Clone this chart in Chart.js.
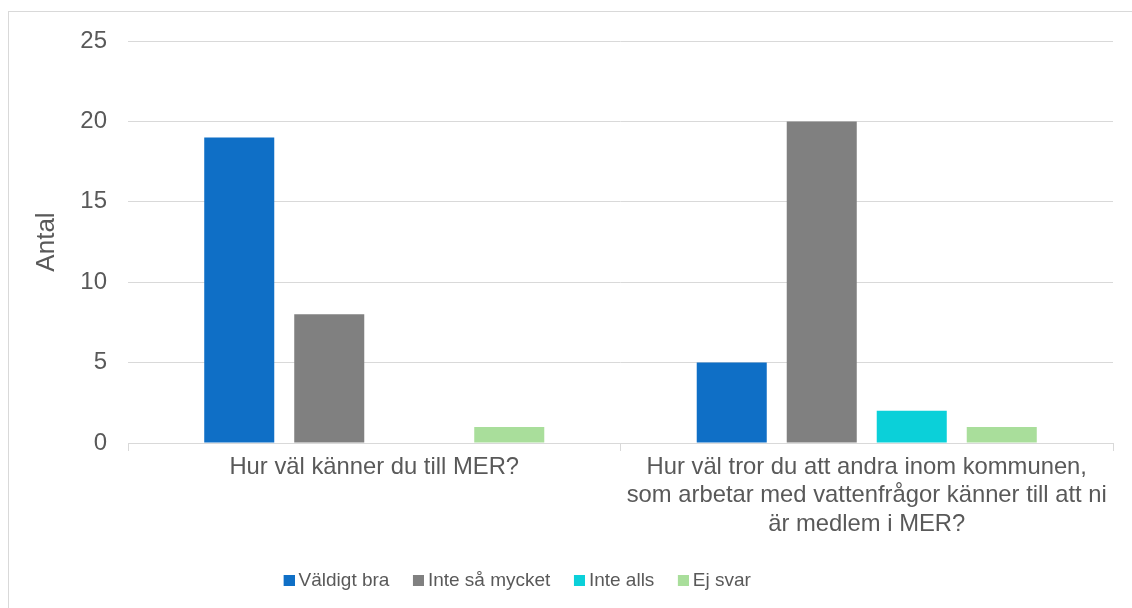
<!DOCTYPE html>
<html>
<head>
<meta charset="utf-8">
<script src="https://cdn.jsdelivr.net/npm/chart.js@4"></script>
<style>
  html, body { margin: 0; padding: 0; background: #fff; overflow: hidden; }
  #frame { position: absolute; left: 8px; top: 11px; width: 1200px; height: 700px; border: 1px solid #d9d9d9; }
  #wrap { position: absolute; left: 0; top: 0; width: 1132px; height: 608px; }
</style>
</head>
<body>
<div id="frame"></div>
<div id="wrap"><canvas id="chart" width="1132" height="608"></canvas></div>
<script>
const categories = [
  "Hur väl känner du till MER?",
  ["Hur väl tror du att andra inom kommunen,", "som arbetar med vattenfrågor känner till att ni", "är medlem i MER?"]
];
const seriesNames = ["Väldigt bra", "Inte så mycket", "Inte alls", "Ej svar"];
const valdigtBra = [19, 5];
const inteSaMycket = [8, 20];
const inteAlls = [0, 2];
const ejSvar = [1, 1];
const yTicks = [0, 5, 10, 15, 20, 25];

const colors = ["#0F6FC6", "#808080", "#0BD0D9", "#A9DE9B"];
const textColor = "#595959";
const font = "'Liberation Sans', Arial, sans-serif";

// legend swatch: square in the right half of a wider transparent image,
// so it sits close to its text like in the original
function swatch(color) {
    let c = document.createElement("canvas");
    c.width = 22;
    c.height = 11;
    let ctx = c.getContext("2d");
    ctx.fillStyle = color;
    ctx.fillRect(11, 0, 11, 11);
    return c;
}
const swatches = colors.map(swatch);

// legend is not centred under the plot in the original
const legendShift = {
    id: "legendShift",
    afterLayout(chart) {
        chart.legend.right -= 104;
    }
};

let chart = new Chart(document.getElementById("chart"), {
    type: "bar",
    data: {
        labels: categories,
        datasets: [valdigtBra, inteSaMycket, inteAlls, ejSvar].map((d, i) => ({
            label: seriesNames[i],
            data: d,
            backgroundColor: colors[i],
            categoryPercentage: 0.731,
            barPercentage: 0.778
        }))
    },
    plugins: [legendShift],
    options: {
        responsive: false,
        animation: false,
        layout: { padding: { left: 20, right: 19, top: 41, bottom: 8 } },
        plugins: {
            tooltip: { enabled: false },
            legend: {
                position: "bottom",
                labels: {
                    color: textColor,
                    font: { family: font, size: 19 },
                    usePointStyle: true,
                    pointStyleWidth: 11,
                    boxHeight: 11,
                    padding: 18,
                    generateLabels: c => Chart.defaults.plugins.legend.labels.generateLabels(c)
                        .map((item, i) => Object.assign(item, { pointStyle: swatches[i] }))
                }
            }
        },
        scales: {
            x: {
                grid: { offset: true, drawOnChartArea: false, color: "#d9d9d9", tickLength: 8 },
                border: { color: "#d9d9d9" },
                ticks: { color: textColor, font: { family: font, size: 23.8, lineHeight: 1.2 }, maxRotation: 0, padding: 2 },
                afterFit: s => { s.height = 110; }
            },
            y: {
                min: 0,
                max: 25,
                afterBuildTicks: s => { s.ticks = yTicks.map(v => ({ value: v })); },
                grid: { color: "#d9d9d9", drawTicks: false },
                border: { display: false },
                ticks: { color: textColor, font: { family: font, size: 24 }, padding: 21 },
                title: { display: true, text: "Antal", color: textColor, font: { family: font, size: 26 }, padding: { top: 11, bottom: 0 } },
                afterFit: s => { s.width = 108; }
            }
        }
    }
});
</script>
</body>
</html>
